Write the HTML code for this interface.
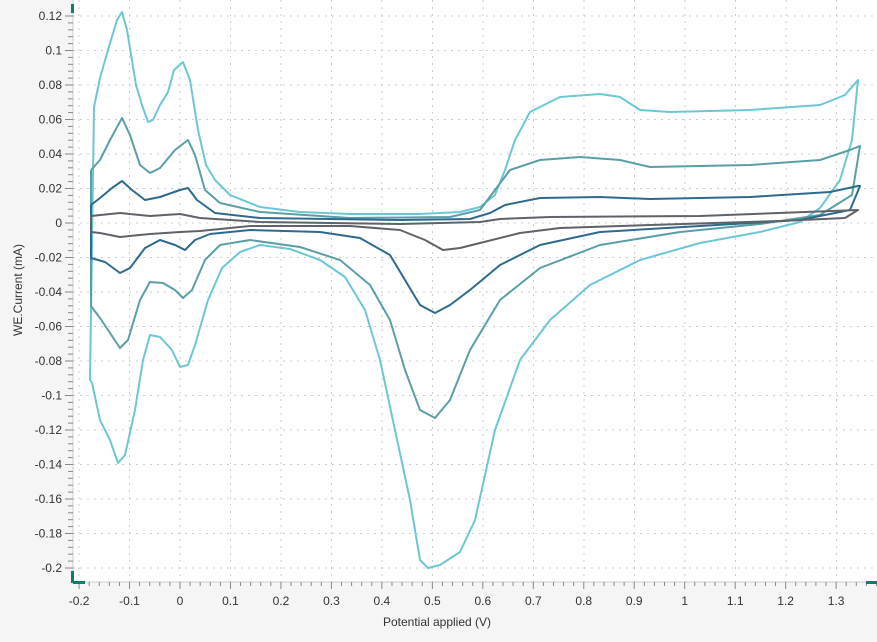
<!DOCTYPE html><html><head><style>body{margin:0;background:#f5f5f5;width:877px;height:637px;overflow:hidden}</style></head><body>
<svg width="877" height="637" xmlns="http://www.w3.org/2000/svg" font-family="Liberation Sans, sans-serif" font-size="12" fill="#333">
<rect x="73" y="0" width="804" height="582" fill="#fff"/>
<g stroke="#ccc" stroke-dasharray="2,5" stroke-width="1">
<line x1="129.5" y1="0" x2="129.5" y2="582"/><line x1="180" y1="0" x2="180" y2="582"/><line x1="230.5" y1="0" x2="230.5" y2="582"/><line x1="281" y1="0" x2="281" y2="582"/><line x1="331.5" y1="0" x2="331.5" y2="582"/><line x1="382" y1="0" x2="382" y2="582"/><line x1="432.5" y1="0" x2="432.5" y2="582"/><line x1="483" y1="0" x2="483" y2="582"/><line x1="533.5" y1="0" x2="533.5" y2="582"/><line x1="584" y1="0" x2="584" y2="582"/><line x1="634.5" y1="0" x2="634.5" y2="582"/><line x1="685" y1="0" x2="685" y2="582"/><line x1="735.5" y1="0" x2="735.5" y2="582"/><line x1="786" y1="0" x2="786" y2="582"/><line x1="836.5" y1="0" x2="836.5" y2="582"/><line x1="79" y1="0" x2="79" y2="582"/>
<line x1="73" y1="16" x2="877" y2="16"/><line x1="73" y1="50.5" x2="877" y2="50.5"/><line x1="73" y1="85" x2="877" y2="85"/><line x1="73" y1="119.5" x2="877" y2="119.5"/><line x1="73" y1="154" x2="877" y2="154"/><line x1="73" y1="188.5" x2="877" y2="188.5"/><line x1="73" y1="223" x2="877" y2="223"/><line x1="73" y1="257.5" x2="877" y2="257.5"/><line x1="73" y1="292" x2="877" y2="292"/><line x1="73" y1="326.5" x2="877" y2="326.5"/><line x1="73" y1="361" x2="877" y2="361"/><line x1="73" y1="395.5" x2="877" y2="395.5"/><line x1="73" y1="430" x2="877" y2="430"/><line x1="73" y1="464.5" x2="877" y2="464.5"/><line x1="73" y1="499" x2="877" y2="499"/><line x1="73" y1="533.5" x2="877" y2="533.5"/><line x1="73" y1="568" x2="877" y2="568"/>
</g>
<line x1="73" y1="0" x2="73" y2="582" stroke="#ccc"/><line x1="73" y1="582" x2="877" y2="582" stroke="#ccc"/>
<g id="ticks" stroke="#888"></g>
<g fill="none" stroke-width="2" stroke-linejoin="round">
<polyline stroke="#6cc7d4" points="94,107 100,78 108,50 117,20 122,12 127,30 136,85 142,105 148,122 153,120 160,105 168,92 174,70 183,62 190,80 198,130 206,165 215,180 230,195 260,207 300,212 350,214 420,214 460,212 480,207 495,195 505,170 515,140 530,112 560,97 600,94 620,97 640,110 670,112 750,110 820,105 845,95 858,80 852,140 840,180 820,208 800,222 760,232 700,243 640,260 590,285 550,320 520,360 495,430 475,520 460,552 440,565 428,568 420,560 410,500 395,430 380,360 365,310 345,277 320,260 290,249 260,245 240,252 222,268 208,300 195,345 188,365 180,367 172,350 160,337 150,335 143,360 135,410 125,455 118,463 110,440 100,420 92,383 90,380 94,107"/>
<polyline stroke="#5a9ea6" points="91,170 100,160 110,140 122,118 130,135 140,165 150,173 160,168 175,150 188,140 195,155 205,190 220,203 260,212 350,218 450,217 480,210 495,190 510,170 540,160 580,157 620,160 650,167 750,165 820,160 850,150 860,146 852,195 820,215 760,224 680,232 600,245 540,268 500,300 470,350 450,400 435,418 420,410 405,370 390,320 370,285 340,260 300,247 250,240 220,245 205,260 192,290 183,298 175,290 163,283 150,282 140,300 128,340 120,348 110,333 100,318 91,306 91,170"/>
<polyline stroke="#2e6a8e" points="91,205 100,198 112,188 122,181 132,190 145,200 160,197 180,190 188,188 197,200 215,213 260,218 400,220 470,219 490,213 505,205 540,198 600,197 650,199 750,197 830,192 858,186 860,186 850,210 800,220 700,226 600,232 540,245 500,265 470,290 450,305 435,313 420,305 405,280 390,255 360,238 320,232 250,230 210,234 195,240 185,250 175,245 160,240 145,248 130,268 120,273 105,262 91,258 91,205"/>
<polyline stroke="#5f6368" points="91,216 120,213 150,216 180,214 200,218 260,222 400,224 480,222 500,219 550,217 700,216 858,210 845,218 780,221 650,225 560,228 520,233 480,243 460,248 443,250 425,240 400,230 350,226 250,226 200,231 180,232 150,234 120,237 100,233 91,232 91,216"/>
</g>
<g id="yl" text-anchor="end"></g><g id="xl" text-anchor="middle"></g>
<text x="437" y="626" text-anchor="middle">Potential applied (V)</text>
<text transform="translate(22,290) rotate(-90)" text-anchor="middle">WE.Current (mA)</text>
<g fill="#0e7d6e"><rect x="71" y="4" width="3" height="9"/><rect x="71" y="571" width="3" height="12"/><rect x="73" y="581" width="12" height="3"/><rect x="866" y="581" width="11" height="3"/></g>
</svg>
<script>
var ns="http://www.w3.org/2000/svg",t=document.getElementById("ticks"),yl=document.getElementById("yl"),xl=document.getElementById("xl");
function L(a,b,c,d){var l=document.createElementNS(ns,"line");l.setAttribute("x1",a);l.setAttribute("y1",b);l.setAttribute("x2",c);l.setAttribute("y2",d);t.appendChild(l);}
function T(g,x,y,s){var e=document.createElementNS(ns,"text");e.setAttribute("x",x);e.setAttribute("y",y);e.textContent=s;g.appendChild(e);}
for(var i=0;i<=80;i++){var v=0.12-i*0.004,y=223-1725*v;if(y>582)break;var maj=i%5==0;L(maj?65:68,y,73,y);if(maj){var s=(Math.round(v*100)/100).toString();T(yl,62,y+4,s);}}
for(var i=0;i<=80;i++){var v=-0.2+i*0.02,x=180+504.7*v;if(x>877)break;var maj=i%5==0;L(x,582,x,maj?589:586);if(maj){var s=(Math.round(v*10)/10).toString();T(xl,x,605,s);}}
</script>
</body></html>
